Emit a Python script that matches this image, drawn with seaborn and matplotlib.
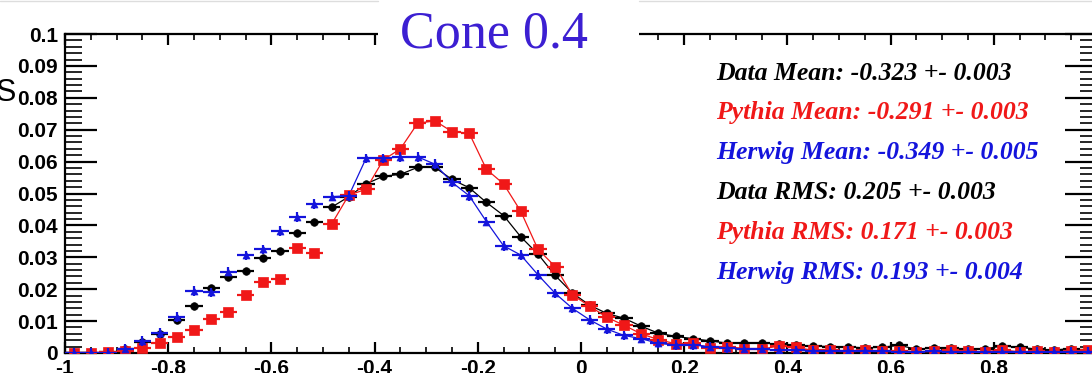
import numpy as np
import pandas as pd
import matplotlib
matplotlib.use("Agg")
import matplotlib.pyplot as plt
import seaborn as sns
from matplotlib.ticker import MultipleLocator
from matplotlib.patches import Rectangle
from matplotlib.lines import Line2D

# ---------------- data (60 bins from -1 to 1) ----------------
bin_edges = np.linspace(-1.0, 1.0, 61)
bin_centers = 0.5 * (bin_edges[:-1] + bin_edges[1:])
half_width = 0.5 * (bin_edges[1] - bin_edges[0])

data_vals = [0, 0, 0.0003, 0.0012, 0.0035, 0.0060, 0.0105, 0.0147, 0.0203, 0.0237,
             0.0258, 0.0298, 0.0320, 0.0375, 0.0411, 0.0457, 0.0490, 0.0530, 0.0554, 0.0560,
             0.0582, 0.0582, 0.0544, 0.0518, 0.0472, 0.0431, 0.0364, 0.0310, 0.0243, 0.0188,
             0.0150, 0.0124, 0.0109, 0.0084, 0.0062, 0.0052, 0.0045, 0.0038, 0.0031, 0.0030,
             0.0032, 0.0027, 0.0024, 0.0022, 0.0020, 0.0019, 0.0016, 0.0018, 0.0024, 0.0012,
             0.0016, 0.0017, 0.0011, 0.0013, 0.0022, 0.0018, 0.0012, 0.0009, 0.0014, 0.0008]

pythia_vals = [0, 0, 0.0002, 0.0007, 0.0017, 0.0030, 0.0051, 0.0072, 0.0106, 0.0127,
               0.0182, 0.0224, 0.0232, 0.0328, 0.0312, 0.0404, 0.0495, 0.0513, 0.0605, 0.0640,
               0.0720, 0.0728, 0.0694, 0.0689, 0.0576, 0.0530, 0.0444, 0.0325, 0.0271, 0.0182,
               0.0147, 0.0112, 0.0087, 0.0060, 0.0042, 0.0029, 0.0030, 0.0016, 0.0020, 0.0014,
               0.0012, 0.0022, 0.0018, 0.0008, 0.0010, 0.0006, 0.0010, 0.0005, 0.0007, 0.0004,
               0.0005, 0.0010, 0.0005, 0.0004, 0.0010, 0.0003, 0.0005, 0.0003, 0.0005, 0.0008]

herwig_vals = [0, 0, 0.0001, 0.0012, 0.0037, 0.0063, 0.0113, 0.0195, 0.0190, 0.0255,
               0.0306, 0.0325, 0.0382, 0.0426, 0.0467, 0.0490, 0.0493, 0.0610, 0.0610, 0.0615,
               0.0615, 0.0592, 0.0535, 0.0493, 0.0412, 0.0336, 0.0307, 0.0245, 0.0187, 0.0140,
               0.0104, 0.0075, 0.0055, 0.0045, 0.0030, 0.0025, 0.0025, 0.0020, 0.0015, 0.0012,
               0.0011, 0.0010, 0.0008, 0.0007, 0.0006, 0.0006, 0.0005, 0.0005, 0.0004, 0.0004,
               0.0005, 0.0003, 0.0004, 0.0003, 0.0004, 0.0003, 0.0004, 0.0003, 0.0003, 0.0003]

data_err = 0.0007
pythia_err = 0.0008
herwig_err = 0.0015

fit_start = 15  # fitted curves start near x = -0.5

x_tick_vals = [-1, -0.8, -0.6, -0.4, -0.2, 0, 0.2, 0.4, 0.6, 0.8, 1]
x_tick_labels = ["-1", "-0.8", "-0.6", "-0.4", "-0.2", "0", "0.2", "0.4", "0.6", "0.8", "1"]
y_tick_vals = [0, 0.01, 0.02, 0.03, 0.04, 0.05, 0.06, 0.07, 0.08, 0.09, 0.1]
y_tick_labels = ["0", "0.01", "0.02", "0.03", "0.04", "0.05", "0.06", "0.07", "0.08", "0.09", "0.1"]

stat_lines = ["Data Mean: -0.323 +- 0.003",
              "Pythia Mean: -0.291 +- 0.003",
              "Herwig Mean: -0.349 +- 0.005",
              "Data RMS: 0.205 +- 0.003",
              "Pythia RMS: 0.171 +- 0.003",
              "Herwig RMS: 0.193 +- 0.004"]

BLACK = "#000000"
RED = "#f01818"
BLUE = "#1414dc"
stat_colors = [BLACK, RED, BLUE, BLACK, RED, BLUE]

df = pd.DataFrame({"x": bin_centers, "data": data_vals,
                   "pythia": pythia_vals, "herwig": herwig_vals})

# ---------------- figure ----------------
sns.set_theme(style="ticks")
plt.rcParams["font.family"] = ["Liberation Sans", "DejaVu Sans"]

W, H = 1092, 373
fig = plt.figure(figsize=(W / 100, H / 100), dpi=100)
fig.patch.set_facecolor("white")
ax = fig.add_axes([65 / W, 20 / H, 1032 / W, 319 / H])
ax.set_facecolor("white")

series = [("data", BLACK, "o", 30, data_err),
          ("pythia", RED, "s", 55, pythia_err),
          ("herwig", BLUE, "^", 25, herwig_err)]

for i, (col, color, marker, size, err) in enumerate(series):
    sub = df.iloc[fit_start:]
    sns.lineplot(data=sub, x="x", y=col, color=color, lw=0.9, ax=ax,
                 zorder=2 + i, legend=False)
    ax.errorbar(df["x"], df[col], xerr=half_width, yerr=err, fmt="none",
                ecolor=color, elinewidth=1.6, capsize=0, zorder=3 + i)
    sns.scatterplot(data=df, x="x", y=col, color=color, marker=marker, s=size,
                    edgecolor=color, linewidth=0.5, ax=ax, zorder=4 + i, legend=False)

ax.set_xlim(-1, 1)
ax.set_ylim(0, 0.1)
ax.set_xlabel("")
ax.set_ylabel("")

ax.set_xticks(x_tick_vals)
ax.set_xticklabels(x_tick_labels)
ax.set_yticks(y_tick_vals)
ax.set_yticklabels(y_tick_labels)
ax.xaxis.set_minor_locator(MultipleLocator(0.05))
ax.yaxis.set_minor_locator(MultipleLocator(0.002))

for sp in ax.spines.values():
    sp.set_visible(True)
    sp.set_linewidth(1.6)
    sp.set_color("black")

ax.tick_params(axis="x", which="major", direction="in", top=True, bottom=True,
               length=8, width=1.6, labelsize=15, pad=4, colors="black")
ax.tick_params(axis="x", which="minor", direction="in", top=True, bottom=True,
               length=4.5, width=1.4)
ax.tick_params(axis="y", which="major", direction="in", left=True, right=True,
               length=23, width=1.6, labelsize=15, pad=5, colors="black")
ax.tick_params(axis="y", which="minor", direction="in", left=True, right=True,
               length=12, width=1.4)
for lab in ax.get_xticklabels() + ax.get_yticklabels():
    lab.set_fontweight("bold")
    lab.set_family(["Liberation Sans", "DejaVu Sans"])

# statistics text
for k, (txt, c) in enumerate(zip(stat_lines, stat_colors)):
    ypx = 73 + k * 39.8
    fig.text(716 / W, 1 - ypx / H, txt, color=c, fontsize=18.5, fontweight="bold",
             fontstyle="italic", family=["Liberation Serif", "DejaVu Serif"],
             ha="left", va="center")

# title with white box covering the frame
fig.add_artist(Rectangle((378 / W, 1 - 62 / H), 261 / W, 62 / H,
                         transform=fig.transFigure, facecolor="white",
                         edgecolor="none", zorder=5))
fig.text(494 / W, 1 - 48 / H, "Cone 0.4", color="#3c1fd2", fontsize=37.5,
         family=["Liberation Serif", "DejaVu Serif"], ha="center", va="baseline",
         zorder=6)

# thin grey line at the very top (slide edge)
fig.add_artist(Line2D([0, 378 / W], [1 - 0.5 / H, 1 - 0.5 / H], transform=fig.transFigure,
                      color="#dddddd", lw=1.0, zorder=6))
fig.add_artist(Line2D([639 / W, 1], [1 - 0.5 / H, 1 - 0.5 / H], transform=fig.transFigure,
                      color="#dddddd", lw=1.0, zorder=6))

# cropped text at the left edge
fig.text(16 / W, 1 - 101 / H, "S", color="black", fontsize=22,
         family=["Liberation Sans", "DejaVu Sans"], ha="right", va="baseline")

fig.savefig("out.png", dpi=100, facecolor="white")
